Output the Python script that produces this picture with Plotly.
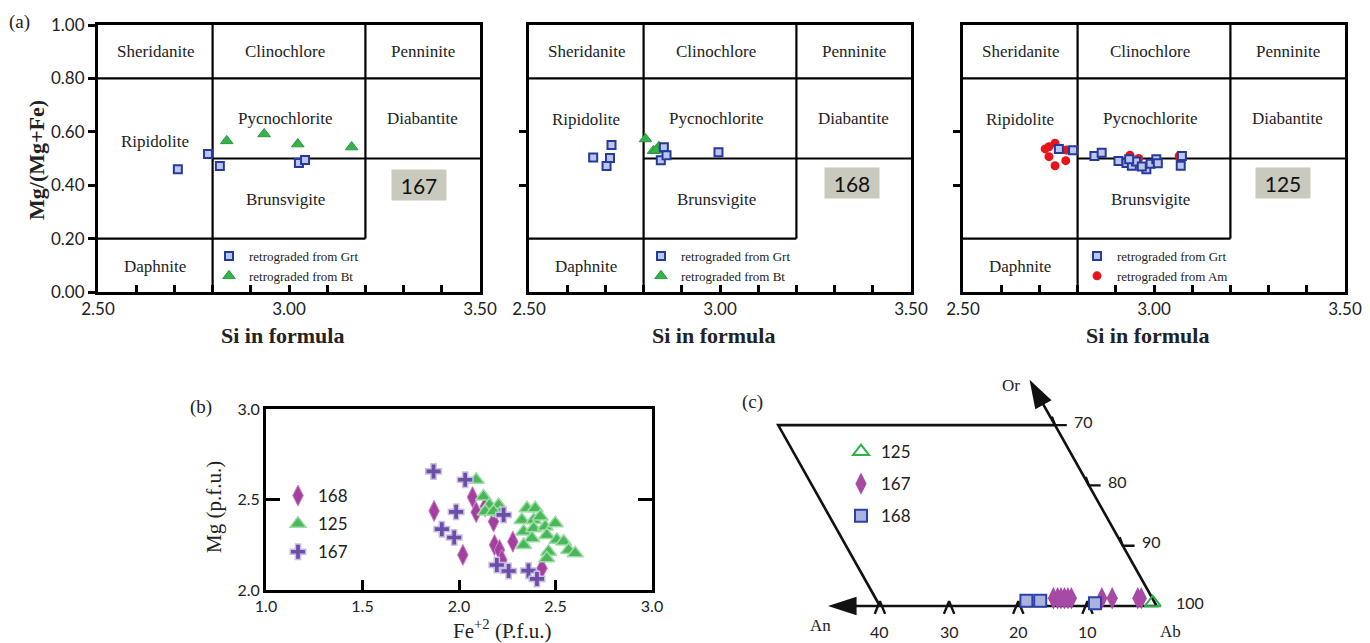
import plotly.graph_objects as go

W, H = 1370, 643
def PX(px): return px / W
def PY(py): return 1 - py / H

SERIF = "Liberation Serif"
SANS = "Lato"

# ---------------- Panel (a) data: Si in formula vs Mg/(Mg+Fe) ----------------
si_167_grt = [2.709, 2.788, 2.819, 3.026, 3.042]
mg_167_grt = [0.460, 0.517, 0.472, 0.483, 0.494]
si_167_bt = [2.837, 2.935, 3.023, 3.164]
mg_167_bt = [0.566, 0.592, 0.554, 0.543]

si_168_grt = [2.668, 2.716, 2.712, 2.703, 2.853, 2.845, 2.860, 2.996]
mg_168_grt = [0.504, 0.551, 0.502, 0.472, 0.542, 0.493, 0.512, 0.523]
si_168_bt = [2.805, 2.826, 2.840, 2.833]
mg_168_bt = [0.573, 0.529, 0.544, 0.531]

si_125_grt = [2.751, 2.788, 2.844, 2.863, 2.907, 2.928, 2.942, 2.953, 2.980, 2.991,
              3.006, 3.010, 3.073, 3.070, 2.935, 2.968]
mg_125_grt = [0.536, 0.531, 0.509, 0.522, 0.491, 0.483, 0.473, 0.489, 0.460, 0.480,
              0.497, 0.482, 0.509, 0.473, 0.497, 0.470]
si_125_am = [2.715, 2.725, 2.741, 2.725, 2.741, 2.771, 2.769, 2.937, 2.960, 3.068, 3.066]
mg_125_am = [0.536, 0.544, 0.557, 0.507, 0.473, 0.532, 0.492, 0.512, 0.500, 0.497, 0.510]

region_names = ["Sheridanite", "Clinochlore", "Penninite", "Ripidolite", "Pycnochlorite",
                "Diabantite", "Brunsvigite", "Daphnite"]
region_x = [2.65, 2.99, 3.35, 2.65, 2.99, 3.35, 2.99, 2.65]
region_y_p1 = [0.90, 0.90, 0.90, 0.565, 0.65, 0.65, 0.345, 0.095]
region_y_p23 = [0.90, 0.90, 0.90, 0.645, 0.65, 0.65, 0.345, 0.095]

# field boundaries (x, y0, y1) and (y, x0, x1)
v_lines = [(2.80, 0.0, 1.0), (3.20, 0.2, 1.0)]
h_lines = [(0.80, 2.50, 3.50), (0.50, 2.80, 3.50), (0.20, 2.50, 3.20)]

sample_names = ["167", "168", "125"]
sample_x = [3.34, 3.345, 3.337]
sample_y = [0.40, 0.41, 0.41]

a_yticks = [0.0, 0.2, 0.4, 0.6, 0.8, 1.0]
a_xticks = [2.5, 3.0, 3.5]
a_xminor = [2.6, 2.7, 2.8, 2.9, 3.1, 3.2, 3.3, 3.4]

# ---------------- Panel (b) data: Fe+2 vs Mg ----------------
fe_168 = [1.871, 2.020, 2.070, 2.089, 2.136, 2.179, 2.184, 2.210, 2.222, 2.279, 2.430]
mgb_168 = [2.437, 2.194, 2.513, 2.430, 2.461, 2.378, 2.249, 2.221, 2.166, 2.267, 2.120]

fe_125 = [2.089, 2.127, 2.158, 2.205, 2.136, 2.352, 2.395, 2.326, 2.387, 2.421, 2.335,
          2.387, 2.447, 2.499, 2.455, 2.507, 2.542, 2.378, 2.335, 2.464, 2.455, 2.568,
          2.602, 2.214, 2.179]
mgb_125 = [2.609, 2.517, 2.470, 2.470, 2.434, 2.452, 2.452, 2.387, 2.387, 2.406, 2.323,
           2.341, 2.351, 2.369, 2.304, 2.277, 2.268, 2.286, 2.249, 2.212, 2.175, 2.221,
           2.203, 2.425, 2.434]

fe_167 = [1.868, 2.032, 1.911, 1.985, 1.975, 2.231, 2.196, 2.257, 2.360, 2.404]
mgb_167 = [2.655, 2.609, 2.336, 2.432, 2.290, 2.415, 2.138, 2.105, 2.107, 2.061]

# ---------------- Panel (c) data: feldspar An / Or ----------------
an_125 = [0.3]
orv_125 = [99.45]
an_167 = [14.3, 13.7, 13.2, 12.7, 12.2, 11.7, 7.3, 5.8, 2.1, 1.6]
orv_167 = [98.72] * 10
an_168 = [18.4, 16.4, 8.7]
orv_168 = [99.12, 99.12, 99.55]

c_bottom_ticks = [40, 30, 20, 10]
c_right_ticks = [70, 80, 90]
c_right_labels = [70, 80, 90, 100]

# ---------------- geometry for panel (c) (skewed frame) ----------------
C_XPX, C_YPX = 6.92, 6.03        # pixels per unit
C_SKEW = 0.4899
C_ORIGIN = (1156.7, 606.0)        # pixel position of Ab corner


def tern(an, orv):
    v = 100 - orv
    return -(an + v * C_SKEW), v


fig = go.Figure()


def paper_text(text, px, py, size, family, angle=0, weight="normal"):
    fig.add_annotation(x=PX(px), y=PY(py), xref="paper", yref="paper", text=text,
                       showarrow=False, xanchor="center", yanchor="middle", textangle=angle,
                       font=dict(family=family, size=size, color="#222", weight=weight))


# ---------------- Panel (a) ----------------
sq_marker = dict(symbol="square", size=8, color="#bcc6ea", line=dict(color="#243a9c", width=2))
tri_marker = dict(symbol="triangle-up", size=11, color="#35b24a", line=dict(color="#2a9a40", width=1))
circ_marker = dict(symbol="circle", size=9, color="#e8141c", line=dict(color="#e8141c", width=0))

panels_a = [
    ("", si_167_grt, mg_167_grt, si_167_bt, mg_167_bt, "retrograded from Bt", tri_marker),
    ("2", si_168_grt, mg_168_grt, si_168_bt, mg_168_bt, "retrograded from Bt", tri_marker),
    ("3", si_125_grt, mg_125_grt, si_125_am, mg_125_am, "retrograded from Am", circ_marker),
]
for i, (n, gx, gy, ox, oy, oname, omark) in enumerate(panels_a):
    leg = "legend" + n
    fig.add_trace(go.Scatter(x=ox, y=oy, mode="markers", marker=omark, name=oname,
                             xaxis="x" + n, yaxis="y" + n, legend=leg, legendgroup=f"a{i}o",
                             legendrank=2))
    fig.add_trace(go.Scatter(x=gx, y=gy, mode="markers", marker=sq_marker, name="retrograded from Grt",
                             xaxis="x" + n, yaxis="y" + n, legend=leg, legendgroup=f"a{i}g",
                             legendrank=1))

a_domains = [(98, 480), (529, 911), (963, 1345)]
layout_axes = {}
for i, (l, r) in enumerate(a_domains):
    n = "" if i == 0 else str(i + 1)
    layout_axes["xaxis" + n] = dict(
        domain=[PX(l), PX(r)], range=[2.5, 3.5], anchor="y" + n, automargin=False,
        tickvals=a_xticks, ticktext=[f"{v:.2f}" for v in a_xticks],
        ticks="inside", ticklen=7, tickwidth=3, tickcolor="black",
        minor=dict(tickvals=a_xminor, ticks="inside", ticklen=7, tickwidth=3, tickcolor="black"),
        showline=True, linewidth=3, linecolor="black", mirror=True,
        showgrid=False, zeroline=False, tickfont=dict(family=SANS, size=17, color="#222"))
    yax = dict(
        domain=[PY(292), PY(25)], range=[0, 1], anchor="x" + n, automargin=False,
        ticks="outside", ticklen=7, tickwidth=2.5, tickcolor="black",
        showline=True, linewidth=3, linecolor="black", mirror=True,
        showgrid=False, zeroline=False, tickfont=dict(family=SANS, size=17, color="#222"))
    if i == 0:
        yax.update(tickvals=a_yticks, ticktext=[f"{v:.2f}" for v in a_yticks])
    else:
        yax.update(tickvals=[0.4, 0.6], showticklabels=False)
    layout_axes["yaxis" + n] = yax
    for (xv, y0, y1) in v_lines:
        fig.add_shape(type="line", x0=xv, x1=xv, y0=y0, y1=y1, xref="x" + n, yref="y" + n,
                      line=dict(color="black", width=2.2), layer="below")
    for (yv, x0, x1) in h_lines:
        fig.add_shape(type="line", x0=x0, x1=x1, y0=yv, y1=yv, xref="x" + n, yref="y" + n,
                      line=dict(color="black", width=2.2), layer="below")
    ry = region_y_p1 if i == 0 else region_y_p23
    for name, rx, ryy in zip(region_names, region_x, ry):
        fig.add_annotation(x=rx, y=ryy, xref="x" + n, yref="y" + n, text=name, showarrow=False,
                           font=dict(family=SERIF, size=17, color="#222"))
    fig.add_annotation(x=sample_x[i], y=sample_y[i], xref="x" + n, yref="y" + n,
                       text=sample_names[i], showarrow=False, bgcolor="#c9c9bd",
                       width=52, height=28, font=dict(family=SANS, size=21, color="#111"))
    paper_text("Si in formula", (l + r) / 2 - 7, 335, 22, SERIF, weight="bold")

paper_text("Mg/(Mg+Fe)", 36, 160, 22, SERIF, angle=-90, weight="bold")
paper_text("(a)", 19, 22, 19, SERIF)

# ---------------- Panel (b) ----------------
fig.add_trace(go.Scatter(x=fe_168, y=mgb_168, mode="markers", name="168", xaxis="x4", yaxis="y4",
                         marker=dict(symbol="diamond-tall", size=15, color="#a3409f",
                                     line=dict(color="#c77fc4", width=1)),
                         legend="legend4", legendgroup="b1"))
fig.add_trace(go.Scatter(x=fe_125, y=mgb_125, mode="markers", name="125", xaxis="x4", yaxis="y4",
                         marker=dict(symbol="triangle-up", size=14, color="#48b85a",
                                     line=dict(color="#9fdca5", width=1.5)),
                         legend="legend4", legendgroup="b2"))
fig.add_trace(go.Scatter(x=fe_167, y=mgb_167, mode="markers", name="167", xaxis="x4", yaxis="y4",
                         marker=dict(symbol="cross", size=13, color="#6a4fa6",
                                     line=dict(color="#c9bde6", width=1.5)),
                         legend="legend4", legendgroup="b3"))

layout_axes["xaxis4"] = dict(domain=[PX(266), PX(652)], range=[1.0, 3.0], anchor="y4", automargin=False,
                             tickvals=[1.0, 1.5, 2.0, 2.5, 3.0], ticktext=["1.0", "1.5", "2.0", "2.5", "3.0"],
                             ticks="inside", ticklen=10, tickwidth=3, tickcolor="black",
                             showline=True, linewidth=3, linecolor="black", mirror=True,
                             showgrid=False, zeroline=False,
                             tickfont=dict(family=SANS, size=16, color="#222"))
layout_axes["yaxis4"] = dict(domain=[PY(590), PY(409)], range=[2.0, 3.0], anchor="x4", automargin=False,
                             tickvals=[2.0, 2.5, 3.0], ticktext=["2.0", "2.5", "3.0"],
                             ticks="inside", ticklen=14, tickwidth=3, tickcolor="black",
                             showline=True, linewidth=3, linecolor="black", mirror="ticks",
                             showgrid=False, zeroline=False,
                             tickfont=dict(family=SANS, size=16, color="#222"))
paper_text("Fe<sup>+2</sup> (P.f.u.)", 502, 629, 21, SERIF)
paper_text("Mg (p.f.u.)", 214, 507, 21, SERIF, angle=-90)
paper_text("(b)", 201, 407, 19, SERIF)

# ---------------- Panel (c) ----------------
cx125, cy125 = zip(*[tern(a, o) for a, o in zip(an_125, orv_125)])
cx167, cy167 = zip(*[tern(a, o) for a, o in zip(an_167, orv_167)])
cx168, cy168 = zip(*[tern(a, o) for a, o in zip(an_168, orv_168)])

def c_line(xs, ys, width=2.5):
    fig.add_trace(go.Scatter(x=xs, y=ys, mode="lines", line=dict(color="#111", width=width),
                             xaxis="x5", yaxis="y5", showlegend=False, hoverinfo="skip"))

frame_an = [40, 0, 0, 40, 40]
frame_or = [100, 100, 70, 70, 100]
fx, fy = zip(*[tern(a, o) for a, o in zip(frame_an, frame_or)])
c_line(fx, fy, 2.6)
for t in c_bottom_ticks:
    x0, y0 = tern(t, 100)
    c_line([x0 - 0.75, x0, x0 + 0.75], [y0 - 1.3, y0 + 0.8, y0 - 1.3], 2.4)
    fig.add_annotation(x=x0, y=y0, xref="x5", yref="y5", text=str(t), showarrow=False,
                       yshift=-25, font=dict(family=SANS, size=16, color="#222"))
for t in c_right_ticks:
    x0, y0 = tern(0, t)
    c_line([x0 - 0.45, x0, x0 + 1.7], [y0 + 1.4, y0, y0], 2.4)
for t in c_right_labels:
    x0, y0 = tern(0, t)
    fig.add_annotation(x=x0, y=y0, xref="x5", yref="y5", text=str(t), showarrow=False,
                       xanchor="left", xshift=17, yshift=4,
                       font=dict(family=SANS, size=16, color="#222"))
# axis arrows (shaft + arrowhead marker)
a_start = tern(40, 100)
a_tip = tern(47.5, 100)
c_line([a_start[0], a_tip[0] + 2.5], [a_start[1], a_tip[1]], 2.6)
o_start = tern(0, 70)
o_tip = tern(0, 62.5)
c_line([o_start[0], o_tip[0] + 1.2], [o_start[1], o_tip[1] - 2.5], 2.6)
fig.add_trace(go.Scatter(x=[a_tip[0], o_tip[0]], y=[a_tip[1], o_tip[1]], mode="markers",
                         marker=dict(symbol="arrow", size=30, angle=[-90, -29], color="#111",
                                     line=dict(width=0)),
                         xaxis="x5", yaxis="y5", showlegend=False, hoverinfo="skip"))

fig.add_trace(go.Scatter(x=cx125, y=cy125, mode="markers", name="125", xaxis="x5", yaxis="y5",
                         marker=dict(symbol="triangle-up-open", size=14, color="#2db34a",
                                     line=dict(width=2)),
                         legend="legend5", legendgroup="c1"))
fig.add_trace(go.Scatter(x=cx167, y=cy167, mode="markers", name="167", xaxis="x5", yaxis="y5",
                         marker=dict(symbol="diamond-tall", size=16, color="#a64aa6",
                                     line=dict(color="#a64aa6", width=0)),
                         legend="legend5", legendgroup="c2"))
fig.add_trace(go.Scatter(x=cx168, y=cy168, mode="markers", name="168", xaxis="x5", yaxis="y5",
                         marker=dict(symbol="square", size=12, color="#a9b3e0",
                                     line=dict(color="#2e3fa5", width=2)),
                         legend="legend5", legendgroup="c3"))

cl, cr, cb, ct = 740, 1262, 641, 365
layout_axes["xaxis5"] = dict(domain=[PX(cl), PX(cr)],
                             range=[(cl - C_ORIGIN[0]) / C_XPX, (cr - C_ORIGIN[0]) / C_XPX],
                             anchor="y5", visible=False, showgrid=False, zeroline=False, automargin=False)
layout_axes["yaxis5"] = dict(domain=[PY(cb), PY(ct)],
                             range=[(C_ORIGIN[1] - cb) / C_YPX, (C_ORIGIN[1] - ct) / C_YPX],
                             anchor="x5", visible=False, showgrid=False, zeroline=False, automargin=False)

paper_text("Or", 1011, 385, 17, SERIF)
paper_text("An", 820, 625, 17, SERIF)
paper_text("Ab", 1170, 631, 17, SERIF)
paper_text("(c)", 752, 402, 19, SERIF)

# ---------------- legends ----------------
def a_leg(px_marker):
    return dict(x=PX(px_marker - 20), y=PY(241), xanchor="left", yanchor="top",
                font=dict(family=SERIF, size=13, color="#222"), bgcolor="rgba(0,0,0,0)",
                traceorder="grouped", tracegroupgap=0, itemwidth=30)

fig.update_layout(
    width=W, height=H, margin=dict(l=0, r=0, t=0, b=0, autoexpand=False),
    paper_bgcolor="white", plot_bgcolor="rgba(0,0,0,0)",
    font=dict(family=SANS, color="#222"),
    legend=a_leg(229), legend2=a_leg(661), legend3=a_leg(1097),
    legend4=dict(x=PX(278), y=PY(478), xanchor="left", yanchor="top",
                 font=dict(family=SANS, size=17, color="#222"), bgcolor="rgba(0,0,0,0)",
                 traceorder="grouped", tracegroupgap=3, itemwidth=30),
    legend5=dict(x=PX(841), y=PY(434), xanchor="left", yanchor="top",
                 font=dict(family=SANS, size=17, color="#222"), bgcolor="rgba(0,0,0,0)",
                 traceorder="grouped", tracegroupgap=7, itemwidth=30),
    **layout_axes,
)

fig.write_html("out.html")
